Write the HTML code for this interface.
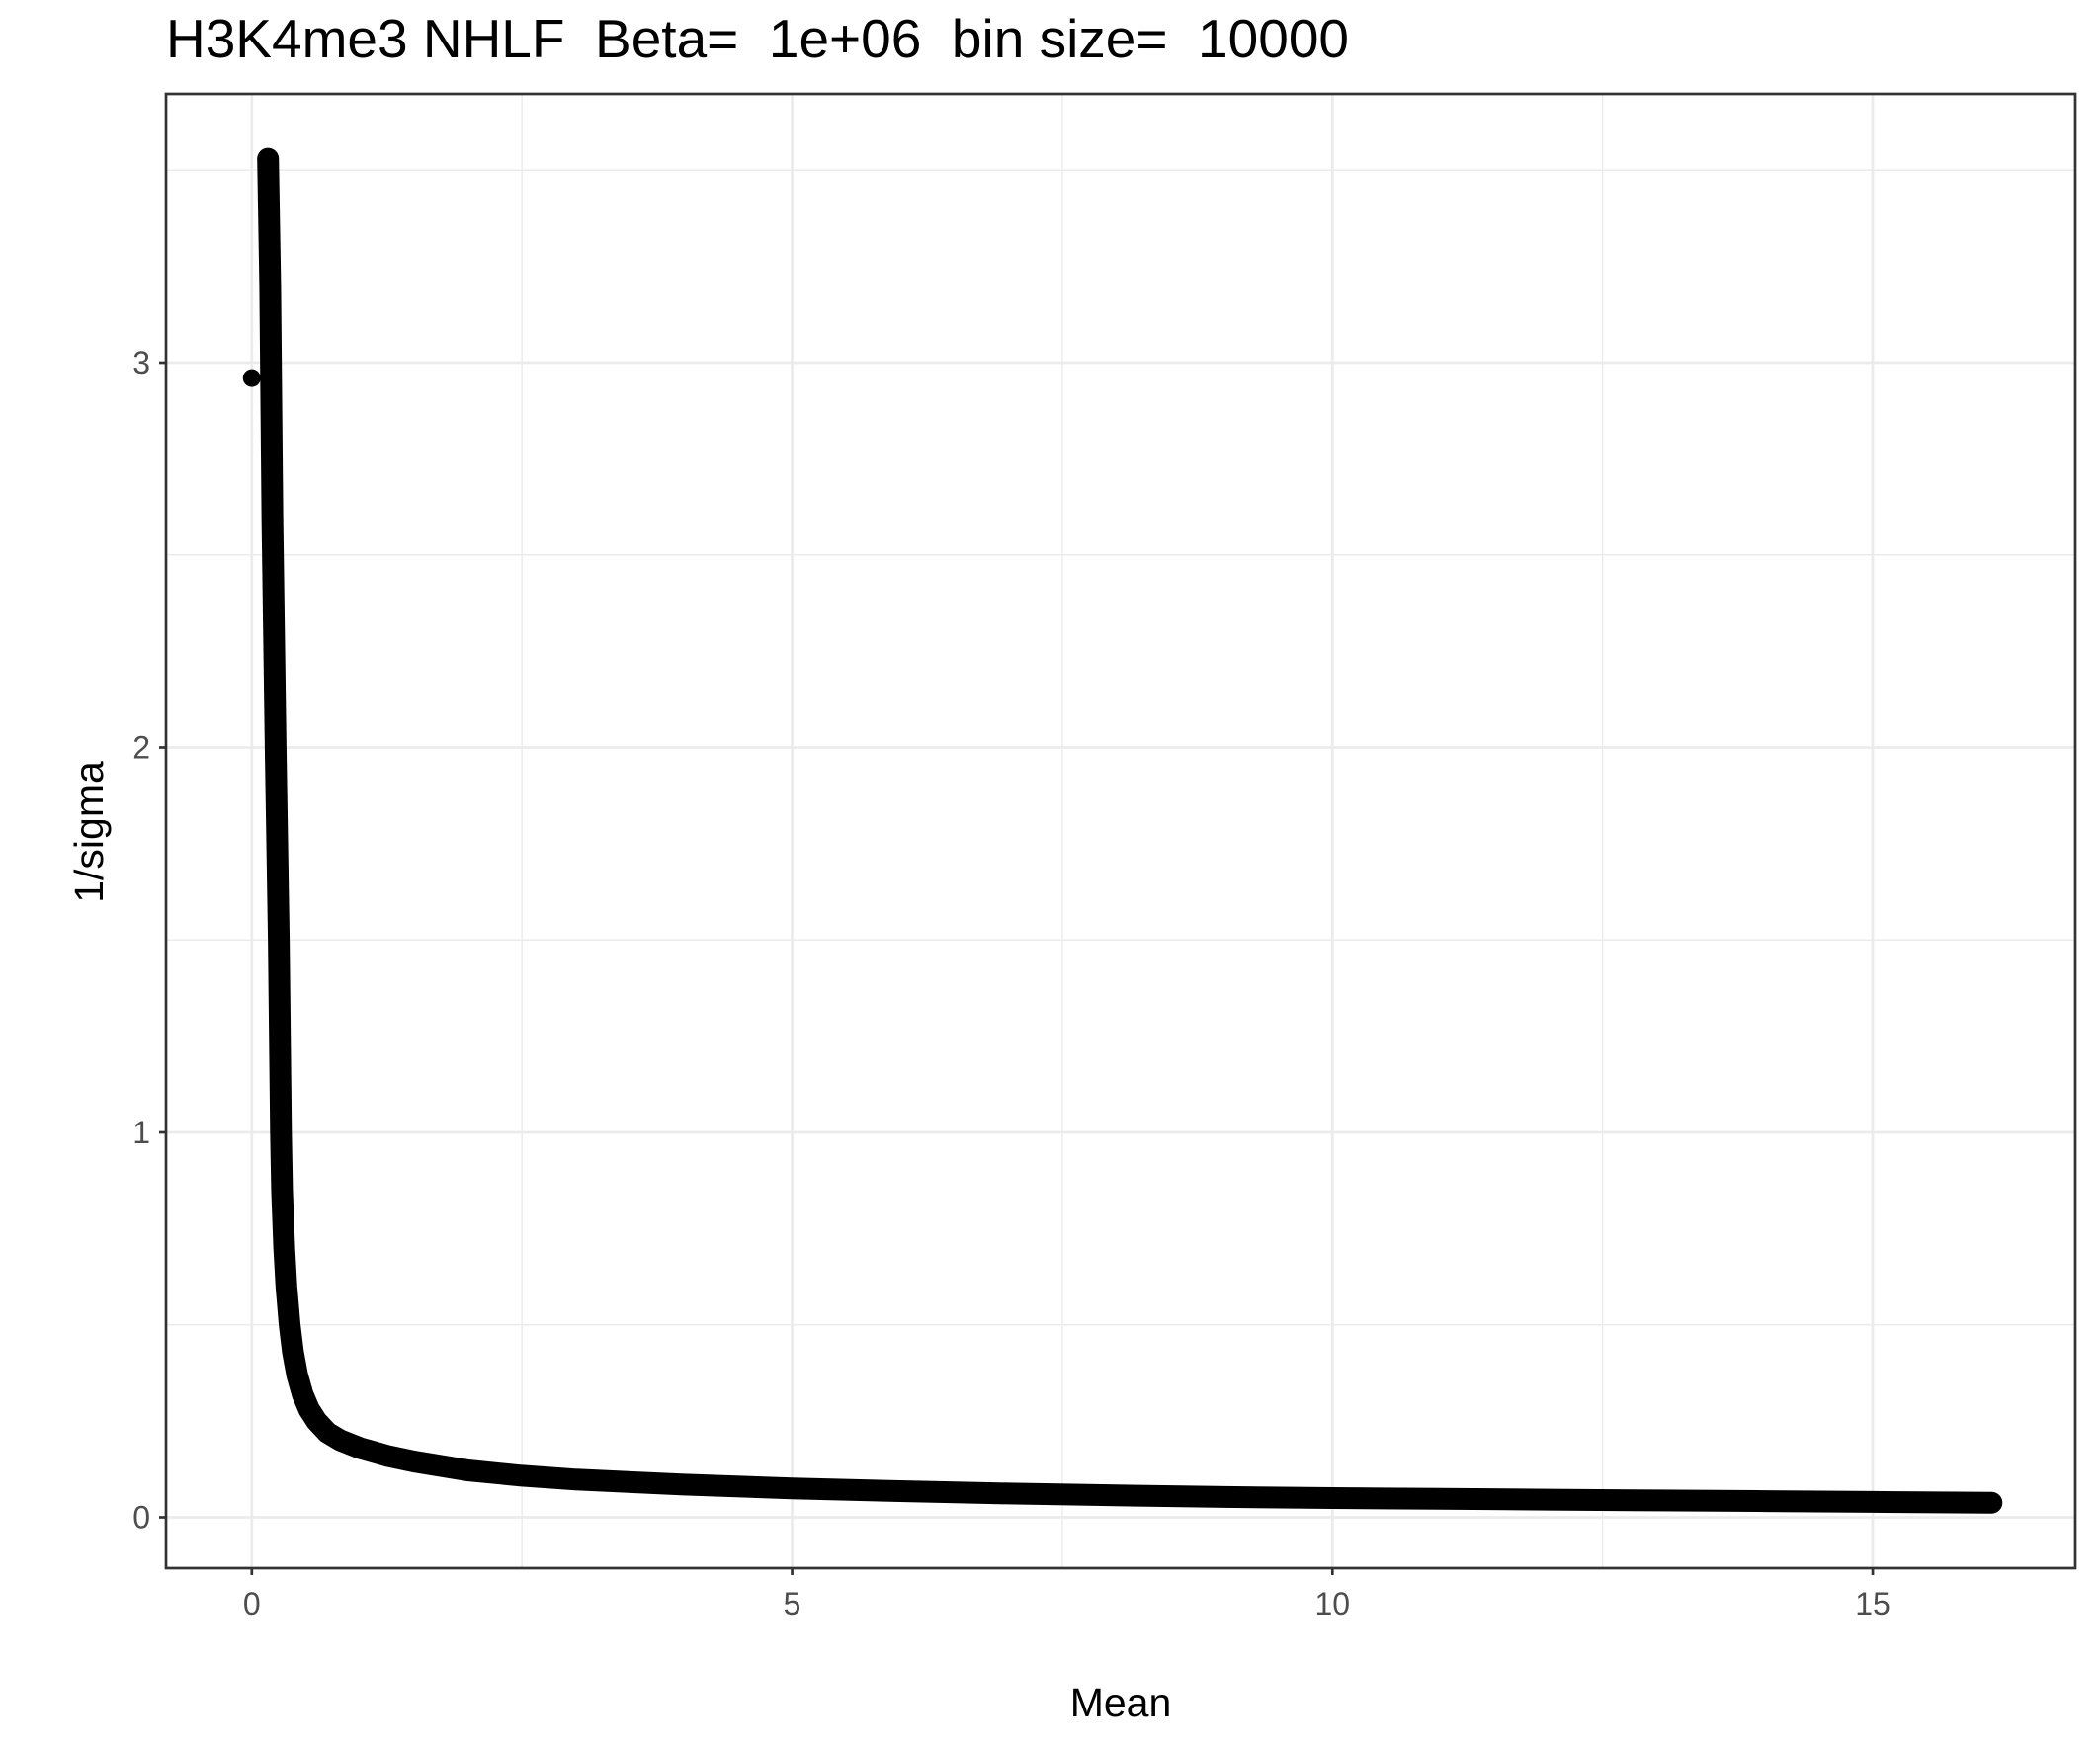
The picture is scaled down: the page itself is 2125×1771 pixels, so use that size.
<!DOCTYPE html>
<html><head><meta charset="utf-8"><style>
body{margin:0;background:#fff;}
svg{display:block;font-family:"Liberation Sans",sans-serif;}
</style></head><body>
<svg id="chart" width="2125" height="1771" viewBox="0 0 2125 1771">
<text x="168" y="58" font-size="55" fill="#000" style="white-space:pre" xml:space="preserve">H3K4me3 NHLF  Beta=  1e+06  bin size=  10000</text>
<g id="grid"></g>
<g id="marks"></g>
<rect x="168" y="95" width="1932" height="1492" fill="none" stroke="#333" stroke-width="2.7"/>
<g id="axes"></g>
<text x="1134" y="1737" font-size="41" text-anchor="middle" fill="#000">Mean</text>
<text transform="translate(104,842) rotate(-90)" font-size="41" text-anchor="middle" fill="#000">1/sigma</text>
</svg>
<script>
const xMajor=[0,5,10,15];
const xMinor=[2.5,7.5,12.5];
const yMajor=[0,1,2,3];
const yMinor=[0.5,1.5,2.5,3.5];
const xTickLabels=["0","5","10","15"];
const yTickLabels=["0","1","2","3"];
const curveMean=[0.15,0.17,0.19,0.22,0.25,0.27,0.28,0.3,0.32,0.35,0.38,0.42,0.47,0.53,0.6,0.7,0.82,1.0,1.25,1.5,2.0,2.5,3,4,5,6,7,8,9,10,11,12,13,14,15,16.1];
const curveVal=[3.53,3.2,2.6,2.0,1.5,1.0,0.85,0.7,0.6,0.5,0.43,0.37,0.32,0.28,0.25,0.22,0.2,0.18,0.16,0.145,0.122,0.108,0.098,0.085,0.075,0.068,0.062,0.057,0.053,0.05,0.048,0.046,0.044,0.042,0.04,0.038];
const loneMean=[0];
const loneVal=[2.96];
const X0=254.8,XS=109.35,Y0=1535.5,YS=389.5;
const sx=v=>X0+v*XS, sy=v=>Y0-v*YS;
const NS="http://www.w3.org/2000/svg";
function mk(t,a,p){const e=document.createElementNS(NS,t);for(const k in a)e.setAttribute(k,a[k]);p.appendChild(e);return e;}
const grid=document.getElementById('grid'),marks=document.getElementById('marks'),axes=document.getElementById('axes');
mk('rect',{x:168,y:95,width:1932,height:1492,fill:'#fff'},grid);
xMinor.forEach(v=>{const e=mk('line',{x1:sx(v),x2:sx(v),y1:95,y2:1587,stroke:'#ebebeb','stroke-width':1.4},grid);

});
yMinor.forEach(v=>{const e=mk('line',{x1:168,x2:2100,y1:sy(v),y2:sy(v),stroke:'#ebebeb','stroke-width':1.4},grid);

});
xMajor.forEach((v,i)=>{const e=mk('line',{x1:sx(v),x2:sx(v),y1:95,y2:1587,stroke:'#ebebeb','stroke-width':2.7},grid);


const t=mk('line',{x1:sx(v),x2:sx(v),y1:1587,y2:1594,stroke:'#333','stroke-width':2.7},axes);


const l=mk('text',{x:sx(v),y:1634,'font-size':32,'text-anchor':'middle',fill:'#4d4d4d'},axes);l.textContent=xTickLabels[i];

});
yMajor.forEach((v,i)=>{const e=mk('line',{x1:168,x2:2100,y1:sy(v),y2:sy(v),stroke:'#ebebeb','stroke-width':2.7},grid);


const t=mk('line',{x1:161,x2:168,y1:sy(v),y2:sy(v),stroke:'#333','stroke-width':2.7},axes);


const l=mk('text',{x:152,y:sy(v)+11,'font-size':32,'text-anchor':'end',fill:'#4d4d4d'},axes);l.textContent=yTickLabels[i];

});
const pts=curveMean.map((m,i)=>sx(m).toFixed(1)+','+sy(curveVal[i]).toFixed(1)).join(' ');
const pl=mk('polyline',{points:pts,fill:'none',stroke:'#000','stroke-width':22,'stroke-linecap':'round','stroke-linejoin':'round'},marks);


loneMean.forEach((m,i)=>{const c=mk('circle',{cx:sx(m),cy:sy(loneVal[i]),r:9,fill:'#000'},marks);

});
</script>
</body></html>
